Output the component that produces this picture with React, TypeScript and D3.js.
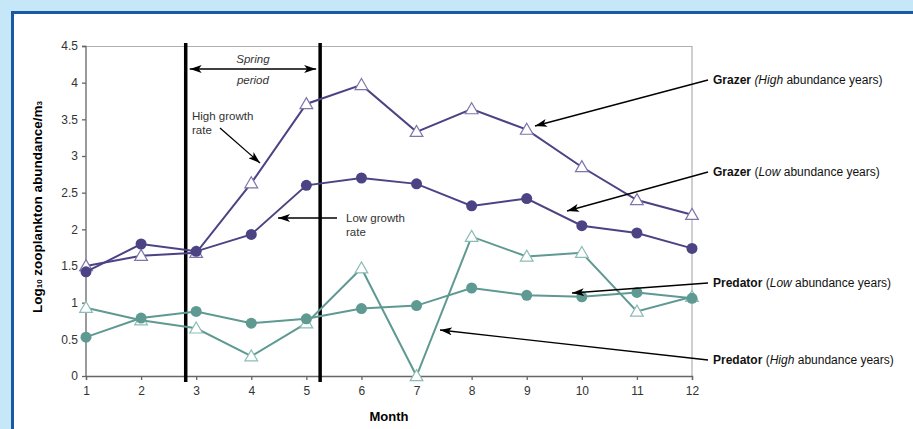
import React, { useEffect, useRef } from 'react';
import * as d3 from 'd3';

const months = [1, 2, 3, 4, 5, 6, 7, 8, 9, 10, 11, 12];
const grazerHigh = [1.5, 1.64, 1.68, 2.63, 3.71, 3.97, 3.33, 3.64, 3.36, 2.85, 2.4, 2.2];
const grazerLow = [1.42, 1.8, 1.7, 1.93, 2.6, 2.7, 2.62, 2.32, 2.42, 2.05, 1.95, 1.74];
const predatorHigh = [0.93, 0.76, 0.65, 0.27, 0.72, 1.47, 0, 1.9, 1.63, 1.68, 0.88, 1.08];
const predatorLow = [0.53, 0.79, 0.88, 0.72, 0.78, 0.92, 0.96, 1.2, 1.1, 1.08, 1.14, 1.06];
const yTicks = [0, 0.5, 1, 1.5, 2, 2.5, 3, 3.5, 4, 4.5];
const springStart = 2.81;
const springEnd = 5.25;

const PURPLE = '#4b4384';
const PURPLE_LIGHT = '#7d75ab';
const TEAL = '#5e9992';
const TEAL_LIGHT = '#8cbdb6';

export default function App() {
  const svgRef = useRef<SVGSVGElement | null>(null);

  const W = 913;
  const H = 429;
  const margin = { top: 46, right: 221, bottom: 53, left: 86 };
  const width = W - margin.left - margin.right;
  const height = H - margin.top - margin.bottom;

  useEffect(() => {
    const root = d3.select(svgRef.current);
    root.selectAll('*').remove();

    // background + panel
    root.append('rect').attr('width', W).attr('height', H).attr('fill', '#c6e7f8');
    root
      .append('rect')
      .attr('x', 12.5)
      .attr('y', 12.5)
      .attr('width', W + 20)
      .attr('height', H + 20)
      .attr('fill', '#fff')
      .attr('stroke', '#1b57a3')
      .attr('stroke-width', 3);

    const defs = root.append('defs');
    defs
      .append('marker')
      .attr('id', 'head')
      .attr('viewBox', '0 0 12 8')
      .attr('refX', 12)
      .attr('refY', 4)
      .attr('markerWidth', 12)
      .attr('markerHeight', 8)
      .attr('markerUnits', 'userSpaceOnUse')
      .attr('orient', 'auto-start-reverse')
      .append('path')
      .attr('d', 'M0,0 L12,4 L0,8 L3,4 Z')
      .attr('fill', '#000');

    const svg = root
      .append('g')
      .attr('transform', `translate(${margin.left}, ${margin.top})`)
      .style('font-family', '"Liberation Sans", Arial, sans-serif');

    const x = d3.scaleLinear().domain([1, 12]).range([0, width]);
    const y = d3.scaleLinear().domain([0, 4.5]).range([height, 0]);

    // top and right frame
    svg
      .append('path')
      .attr('d', `M0,0.5 H${width} V${height}`)
      .attr('fill', 'none')
      .attr('stroke', '#b0b0b0')
      .attr('stroke-width', 1.2);

    // axes
    const yAxis = svg
      .append('g')
      .call(d3.axisLeft(y).tickValues(yTicks).tickSize(4).tickPadding(4).tickFormat((d) => `${d}`));
    const xAxis = svg
      .append('g')
      .attr('transform', `translate(0, ${height})`)
      .call(d3.axisBottom(x).tickValues(months).tickSize(4).tickPadding(6).tickFormat((d) => `${d}`));
    [yAxis, xAxis].forEach((a) => {
      a.selectAll('path, line').attr('stroke', '#666').attr('stroke-width', 1.3);
      a.selectAll('text')
        .attr('fill', '#333')
        .style('font-size', '12px')
        .style('font-family', '"Liberation Sans", Arial, sans-serif');
    });
    yAxis.select('.domain').attr('d', `M-4,0.5 H0 V${height}`);

    // axis titles
    svg
      .append('text')
      .attr('x', width / 2)
      .attr('y', height + 45)
      .attr('text-anchor', 'middle')
      .style('font-size', '13px')
      .style('font-weight', 'bold')
      .text('Month');

    const yt = svg
      .append('text')
      .attr('transform', `translate(-44, ${height / 2 - 4}) rotate(-90)`)
      .attr('text-anchor', 'middle')
      .style('font-size', '13.5px')
      .style('font-weight', 'bold');
    yt.append('tspan').text('Log');
    yt.append('tspan').style('font-size', '8px').text('10');
    yt.append('tspan').text(' zooplankton abundance/m');
    yt.append('tspan').style('font-size', '8px').text('3');

    // spring period bars
    [springStart, springEnd].forEach((m) => {
      svg
        .append('line')
        .attr('x1', x(m))
        .attr('x2', x(m))
        .attr('y1', -3)
        .attr('y2', height + 6)
        .attr('stroke', '#000')
        .attr('stroke-width', 3.5);
    });
    svg
      .append('line')
      .attr('x1', x(springStart) + 4)
      .attr('x2', x(springEnd) - 4)
      .attr('y1', 23)
      .attr('y2', 23)
      .attr('stroke', '#000')
      .attr('stroke-width', 1.3)
      .attr('marker-start', 'url(#head)')
      .attr('marker-end', 'url(#head)');
    const midSpring = (x(springStart) + x(springEnd)) / 2;
    ['Spring', 'period'].forEach((t, i) => {
      svg
        .append('text')
        .attr('x', midSpring)
        .attr('y', 17 + i * 21)
        .attr('text-anchor', 'middle')
        .attr('fill', '#333')
        .style('font-size', '11.5px')
        .style('font-style', 'italic')
        .text(t);
    });

    // series
    const line = d3
      .line<number>()
      .x((_, i) => x(months[i]))
      .y((d) => y(d));
    const tri = d3.symbol().type(d3.symbolTriangle).size(70);

    const series = [
      { values: grazerHigh, color: PURPLE, light: PURPLE_LIGHT, marker: 'tri' },
      { values: grazerLow, color: PURPLE, light: PURPLE, marker: 'dot' },
      { values: predatorHigh, color: TEAL, light: TEAL_LIGHT, marker: 'tri' },
      { values: predatorLow, color: TEAL, light: TEAL, marker: 'dot' },
    ];
    series.forEach((s) => {
      svg
        .append('path')
        .datum(s.values)
        .attr('d', line)
        .attr('fill', 'none')
        .attr('stroke', s.color)
        .attr('stroke-width', 2);
      if (s.marker === 'dot') {
        svg
          .selectAll(null)
          .data(s.values)
          .join('circle')
          .attr('cx', (_, i) => x(months[i]))
          .attr('cy', (d) => y(d))
          .attr('r', 5.5)
          .attr('fill', s.color);
      } else {
        svg
          .selectAll(null)
          .data(s.values)
          .join('path')
          .attr('d', tri)
          .attr('transform', (d, i) => `translate(${x(months[i])}, ${y(d) + 1})`)
          .attr('fill', '#fff')
          .attr('stroke', s.light)
          .attr('stroke-width', 1.2);
      }
    });

    // growth rate notes
    const note = (lines: string[], tx: number, ty: number) => {
      lines.forEach((t, i) => {
        svg
          .append('text')
          .attr('x', tx)
          .attr('y', ty + i * 14)
          .attr('fill', '#333')
          .style('font-size', '11.5px')
          .text(t);
      });
    };
    note(['High growth', 'rate'], 106, 74);
    note(['Low growth', 'rate'], 260, 176);

    const arrow = (x1: number, y1: number, x2: number, y2: number) => {
      svg
        .append('line')
        .attr('x1', x1)
        .attr('y1', y1)
        .attr('x2', x2)
        .attr('y2', y2)
        .attr('stroke', '#000')
        .attr('stroke-width', 1.3)
        .attr('marker-end', 'url(#head)');
    };
    arrow(134, 82, 174, 117);
    arrow(251, 172, 192, 172);

    // right-hand labels
    const labels = [
      { kind: 'Grazer', level: 'High', ly: 34, tip: [449, 80] },
      { kind: 'Grazer', level: 'Low', ly: 126, tip: [481, 165] },
      { kind: 'Predator', level: 'Low', ly: 237, tip: [486, 247] },
      { kind: 'Predator', level: 'High', ly: 314, tip: [354, 284] },
    ];
    labels.forEach((l) => {
      arrow(622, l.ly, l.tip[0], l.tip[1]);
      const t = svg
        .append('text')
        .attr('x', 627)
        .attr('y', l.ly + 4)
        .attr('fill', '#111')
        .style('font-size', '12px');
      t.append('tspan').style('font-weight', 'bold').text(l.kind);
      t.append('tspan').text(' ');
      if (l.level === 'High' && l.kind === 'Grazer') {
        t.append('tspan').style('font-style', 'italic').text('(High');
        t.append('tspan').text(' abundance years)');
      } else {
        t.append('tspan').text('(');
        t.append('tspan').style('font-style', 'italic').text(l.level);
        t.append('tspan').text(' abundance years)');
      }
    });
  });

  return (
    <svg
      ref={svgRef}
      width={W}
      height={H}
      style={{ position: 'absolute', left: 0, top: 0, display: 'block' }}
    ></svg>
  );
}
